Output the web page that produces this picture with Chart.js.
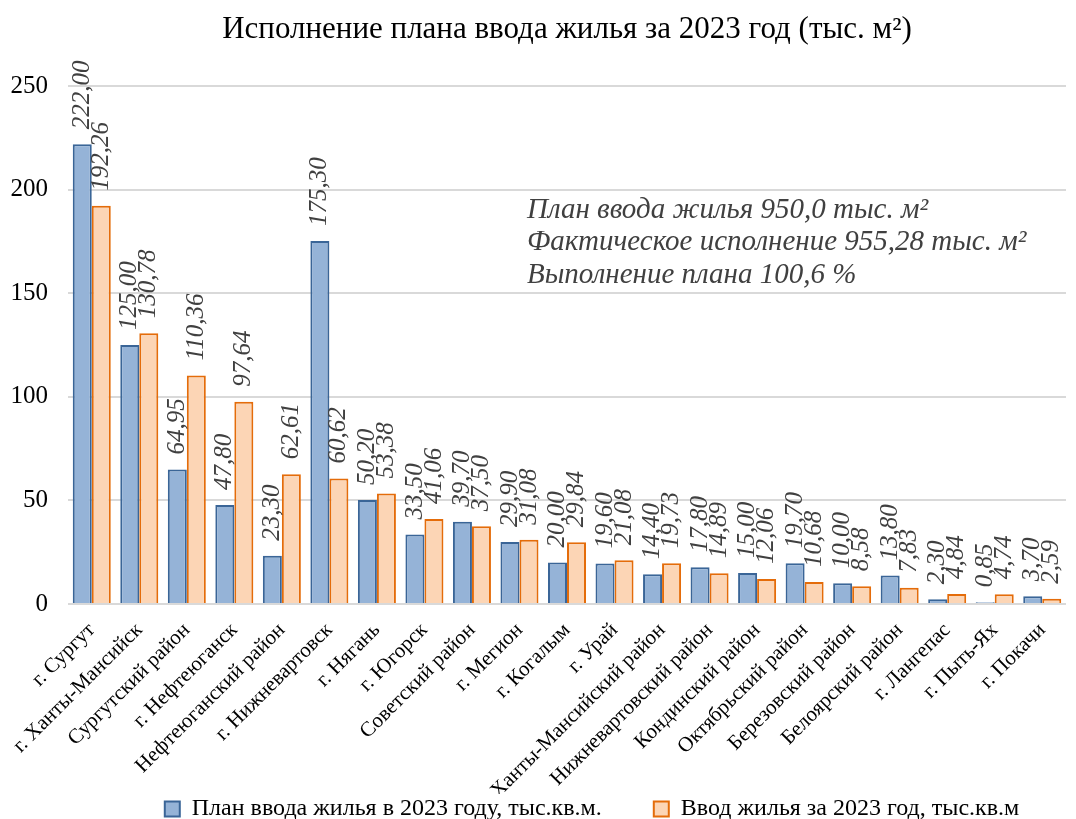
<!DOCTYPE html>
<html><head><meta charset="utf-8">
<script src="https://cdn.jsdelivr.net/npm/chart.js@4"></script>
<style>html,body{margin:0;padding:0;background:#fff}</style>
</head><body>
<canvas id="c" width="1076" height="819"></canvas>
<script>
const categories = ['г. Сургут','г. Ханты-Мансийск','Сургутский район','г. Нефтеюганск','Нефтеюганский район','г. Нижневартовск','г. Нягань','г. Югорск','Советский район','г. Мегион','г. Когалым','г. Урай','Ханты-Мансийский район','Нижневартовский район','Кондинский район','Октябрьский район','Березовский район','Белоярский район','г. Лангепас','г. Пыть-Ях','г. Покачи'];
const planValues = [222.00,125.00,64.95,47.80,23.30,175.30,50.20,33.50,39.70,29.90,20.00,19.60,14.40,17.80,15.00,19.70,10.00,13.80,2.30,0.85,3.70];
const factValues = [192.26,130.78,110.36,97.64,62.61,60.62,53.38,41.06,37.50,31.08,29.84,21.08,19.73,14.89,12.06,10.68,8.58,7.83,4.84,4.74,2.59];
const seriesNames = ['План ввода жилья в 2023 году, тыс.кв.м.','Ввод жилья за 2023 год, тыс.кв.м'];
const yTicks = [0,50,100,150,200,250];
const titleText = 'Исполнение плана ввода жилья за 2023 год (тыс. м²)';
const noteLines = ['План ввода жилья 950,0 тыс. м²','Фактическое исполнение 955,28 тыс. м²','Выполнение плана 100,6 %'];

const SERIF = '"Liberation Serif", "Times New Roman", serif';

const legendFitPlugin = {
  id: 'legendFit',
  beforeInit(chart){
    const orig = chart.legend.fit;
    chart.legend.fit = function(){ orig.bind(chart.legend)(); this.height = 25; };
  },
  afterLayout(chart){
    const lg = chart.legend;
    lg.top = 745; lg.bottom = 819; lg.height = 74;
    lg.left += 25; lg.right += 25;
  }
};

const valueLabels = {
  id: 'valueLabels',
  afterDatasetsDraw(chart){
    const ctx = chart.ctx;
    chart.data.datasets.forEach((ds,i)=>{
      const meta = chart.getDatasetMeta(i);
      meta.data.forEach((bar,j)=>{
        const txt = ds.data[j].toFixed(2).replace('.',',');
        ctx.save();
        ctx.translate(bar.x, bar.y - 15);
        ctx.rotate(-Math.PI/2);
        ctx.font = 'italic 25px ' + SERIF;
        ctx.fillStyle = '#404040';
        ctx.textAlign = 'left';
        ctx.textBaseline = 'middle';
        ctx.fillText(txt, 0, 0);
        ctx.restore();
      });
    });
  }
};

const notePlugin = {
  id: 'note',
  afterDraw(chart){
    const ctx = chart.ctx, a = chart.chartArea;
    ctx.save();
    ctx.font = 'italic 29px ' + SERIF;
    ctx.fillStyle = '#404040';
    ctx.textAlign = 'left';
    ctx.textBaseline = 'middle';
    noteLines.forEach((t,k)=>{ ctx.fillText(t, a.left + 459, a.top + 124 + k*32.5); });
    ctx.restore();
  }
};

new Chart(document.getElementById('c'), {
  type: 'bar',
  data: {
    labels: categories,
    datasets: [
      { label: seriesNames[0], data: planValues, backgroundColor: '#95B3D7', borderColor: '#3A6597', borderWidth: 2, categoryPercentage: 0.8, barPercentage: 1.0 },
      { label: seriesNames[1], data: factValues, backgroundColor: '#FCD5B5', borderColor: '#E46C0A', borderWidth: 2, categoryPercentage: 0.8, barPercentage: 1.0 }
    ]
  },
  options: {
    responsive: false,
    animation: false,
    layout: { padding: { left: 0, right: 10, top: 0, bottom: 0 } },
    plugins: {
      title: { display: true, text: titleText, fullSize: false, color: '#000', font: { family: SERIF, size: 31, weight: 'normal' }, padding: { top: 11, bottom: 38 } },
      legend: { position: 'bottom', fullSize: false, labels: { color: '#000', font: { family: SERIF, size: 24 }, boxWidth: 15, boxHeight: 15, padding: 52 } },
      tooltip: { enabled: false }
    },
    scales: {
      x: {
        grid: { display: false },
        border: { display: false },
        ticks: { color: '#000', font: { family: SERIF, size: 21 }, minRotation: 45, maxRotation: 45, padding: 6, autoSkip: false },
        afterFit(s){ s.height = 190; }
      },
      y: {
        min: 0, max: 250,
        afterBuildTicks(s){ s.ticks = yTicks.map(v=>({value:v})); },
        grid: { color: '#D9D9D9', lineWidth: 2, drawTicks: false },
        border: { display: false },
        ticks: { color: '#000', font: { family: SERIF, size: 25 }, padding: 20 },
        afterFit(s){ s.width = 68; }
      }
    }
  },
  plugins: [legendFitPlugin, valueLabels, notePlugin]
});
</script>
</body></html>
